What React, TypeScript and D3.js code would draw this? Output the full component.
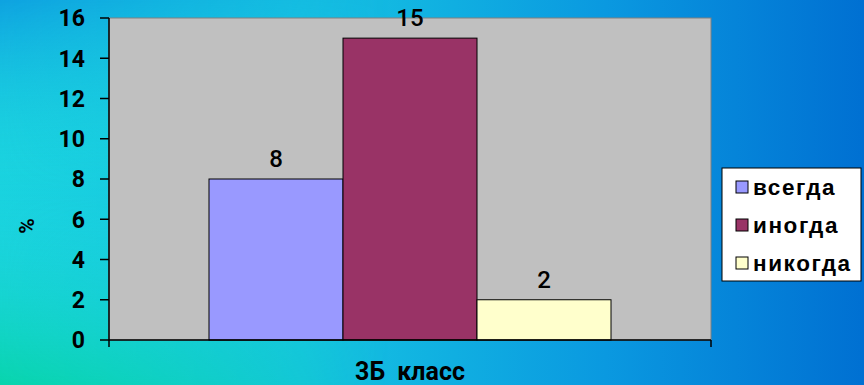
import React from "react";
import * as d3 from "d3";

const categories = ["3Б класс"];
const seriesNames = ["всегда", "иногда", "никогда"];
const seriesValues = [8, 15, 2];
const seriesColors = ["#9999ff", "#993366", "#ffffcc"];
const yTicks = [0, 2, 4, 6, 8, 10, 12, 14, 16];
const yLabel = "%";

export default function App() {
  const W = 864, H = 385;
  const left = 109, right = 711, top = 18, bottom = 340;
  const y = d3.scaleLinear().domain([0, 16]).range([bottom, top]);
  const x0 = d3.scaleBand().domain(categories).range([left, right]).paddingInner(0).paddingOuter(0);
  const groupW = 402;
  const gx = (x0(categories[0]) as number) + (x0.bandwidth() - groupW) / 2;
  const x1 = d3.scaleBand().domain(seriesNames).range([gx, gx + groupW]).padding(0);

  return (
    <svg width={W} height={H} style={{ position: "absolute", left: 0, top: 0, display: "block" }}>
      <defs>
        <linearGradient id="bgH" x1="0" y1="0" x2="1" y2="0">
          <stop offset="0" stopColor="#1ad3df" />
          <stop offset="0.35" stopColor="#16c4e2" />
          <stop offset="0.7" stopColor="#0a99e0" />
          <stop offset="1" stopColor="#0070d2" />
        </linearGradient>
        <linearGradient id="bgV" x1="0" y1="0" x2="0" y2="1">
          <stop offset="0" stopColor="#0ea2e0" stopOpacity="1" />
          <stop offset="0.5" stopColor="#1ed6e0" stopOpacity="0" />
          <stop offset="1" stopColor="#08d4ac" stopOpacity="1" />
        </linearGradient>
        <linearGradient id="fade" x1="0" y1="0" x2="1" y2="0">
          <stop offset="0" stopColor="#fff" stopOpacity="1" />
          <stop offset="0.45" stopColor="#fff" stopOpacity="0" />
        </linearGradient>
        <mask id="m">
          <rect x={0} y={0} width={W} height={H} fill="url(#fade)" />
        </mask>
      </defs>
      <rect x={0} y={0} width={W} height={H} fill="url(#bgH)" />
      <rect x={0} y={0} width={W} height={H} fill="url(#bgV)" mask="url(#m)" />

      <rect x={left} y={top} width={right - left} height={bottom - top} fill="#c0c0c0" stroke="#808080" strokeWidth={1} />

      {seriesNames.map((s, i) => (
        <rect key={s} x={x1(s)} y={y(seriesValues[i])} width={x1.bandwidth()} height={bottom - y(seriesValues[i])}
          fill={seriesColors[i]} stroke="#000" strokeWidth={1} />
      ))}
      {seriesNames.map((s, i) => (
        <text key={s + "l"} x={(x1(s) as number) + x1.bandwidth() / 2} y={y(seriesValues[i]) - 12}
          textAnchor="middle" fontFamily="Roboto" fontWeight={500} fontSize={24} fill="#000">
          {seriesValues[i]}
        </text>
      ))}

      <line x1={left} x2={left} y1={top} y2={bottom + 7} stroke="#000" strokeWidth={1.5} />
      <line x1={left} x2={right} y1={bottom} y2={bottom} stroke="#000" strokeWidth={1.5} />
      <line x1={right} x2={right} y1={bottom} y2={bottom + 7} stroke="#000" strokeWidth={1.5} />
      {yTicks.map((t) => (
        <g key={t}>
          <line x1={left - 9} x2={left} y1={y(t)} y2={y(t)} stroke="#000" strokeWidth={1.5} />
          <text x={85} y={y(t)} dy="0.36em" textAnchor="end" fontFamily="Roboto" fontWeight={700} fontSize={23} fill="#000">
            {t}
          </text>
        </g>
      ))}

      <text transform={`translate(34,226) rotate(-90)`} textAnchor="middle" fontFamily="Roboto" fontWeight={700} fontSize={21} fill="#000">
        {yLabel}
      </text>
      <text x={(left + right) / 2} y={380} textAnchor="middle" fontFamily="Roboto" fontWeight={700} fontSize={25} fill="#000" wordSpacing={6}>
        {categories[0]}
      </text>

      <rect x={722} y={168} width={139} height={113} fill="#fff" stroke="#000" strokeWidth={1} />
      {seriesNames.map((s, i) => (
        <g key={s + "lg"} transform={`translate(736,${187 + i * 38})`}>
          <rect x={0} y={-6} width={12} height={12} fill={seriesColors[i]} stroke="#000" strokeWidth={1} />
          <text x={17} y={0} dy="0.35em" fontFamily="Liberation Sans" fontWeight={700} fontSize={22.5} letterSpacing={1.6} fill="#000">
            {s}
          </text>
        </g>
      ))}
    </svg>
  );
}
